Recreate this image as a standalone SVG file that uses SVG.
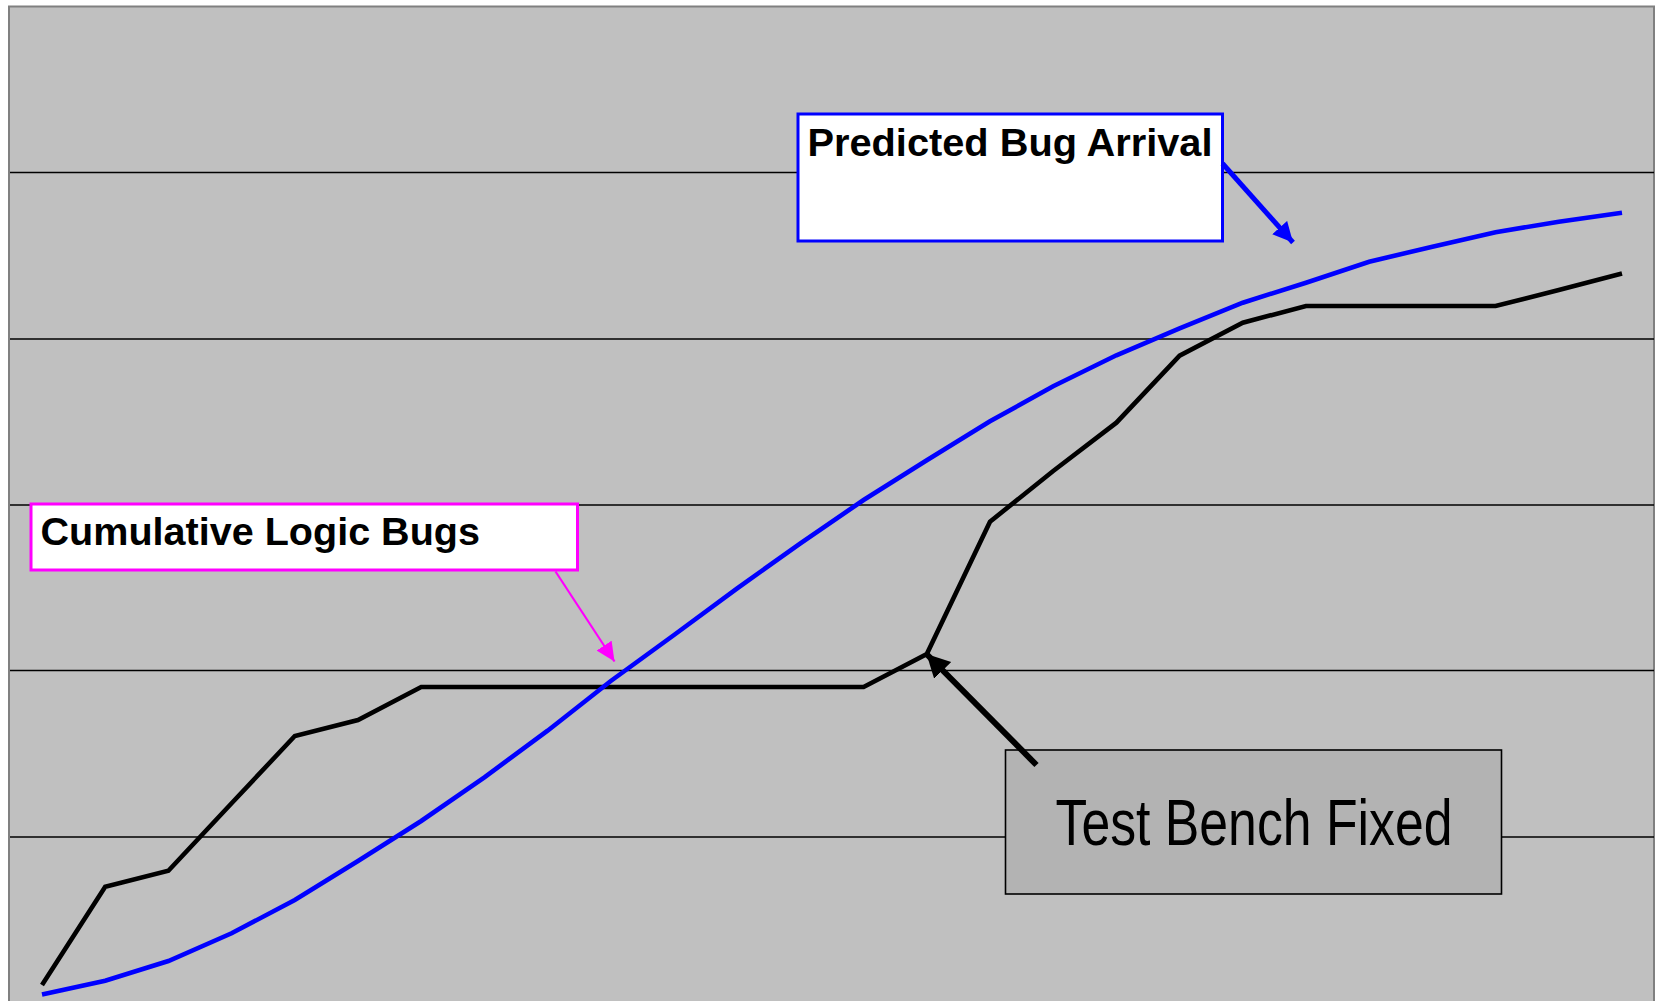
<svg xmlns="http://www.w3.org/2000/svg" width="1656" height="1001" viewBox="0 0 1656 1001">
<style>
.grid{stroke:#000;stroke-width:1.3;fill:none}
.series{fill:none;stroke-width:4.6;stroke-linejoin:miter;stroke-linecap:butt}
.lbl{font-family:"Liberation Sans",Arial,sans-serif;fill:#000}
.bold{font-weight:bold;font-size:39px}
</style>
<defs>
<marker id="ahBlue" markerUnits="userSpaceOnUse" markerWidth="24" markerHeight="22" refX="20" refY="10" orient="auto" viewBox="0 0 24 22">
<path d="M0,0 L20,10 L0,20 Z" fill="#0000FF"/>
</marker>
<marker id="ahMag" markerUnits="userSpaceOnUse" markerWidth="22" markerHeight="22" refX="19" refY="9" orient="auto" viewBox="0 0 22 22">
<path d="M0,0 L19,9 L0,18 Z" fill="#FF00FF"/>
</marker>
<marker id="ahBlack" markerUnits="userSpaceOnUse" markerWidth="26" markerHeight="26" refX="23" refY="12" orient="auto" viewBox="0 0 26 26">
<path d="M0,0 L23,12 L0,24 Z" fill="#000"/>
</marker>
</defs>
<rect x="0" y="0" width="1656" height="1001" fill="#FFFFFF"/>
<g id="plot">
<rect x="9" y="6.5" width="1645" height="1000" fill="#C0C0C0" stroke="#808080" stroke-width="2"/>
<line class="grid" x1="10" y1="172.5" x2="1654" y2="172.5"/>
<line class="grid" x1="10" y1="339" x2="1654" y2="339"/>
<line class="grid" x1="10" y1="505" x2="1654" y2="505"/>
<line class="grid" x1="10" y1="670.5" x2="1654" y2="670.5"/>
<line class="grid" x1="10" y1="837" x2="1654" y2="837"/>
</g>
<g id="series-actual">
<polyline class="series" stroke="#000000" points="42,985 105.2,886.7 168.4,870.7 231.6,803.3 294.8,736 358,720 421.2,687 484.4,687 547.6,687 610.8,687 674,687 737.2,687 800.4,687 863.6,687 926.8,654 990,521.7 1053.2,471 1116.4,422.7 1179.6,355.7 1242.8,322.7 1306,306 1369.2,306 1432.4,306 1495.6,306 1558.8,290 1622,273.5"/>
</g>
<g id="series-predicted">
<polyline class="series" stroke="#0000FF" points="42,994.5 105.2,980.7 168.4,961 231.6,933.3 294.8,900 358,861 421.2,821 484.4,777.3 547.6,730.7 610.8,681 674,635 737.2,588.3 800.4,543.3 863.6,500 926.8,460.3 990,421.3 1053.2,386.3 1116.4,355.3 1179.6,328.3 1242.8,302.7 1306,282.7 1369.2,261.7 1432.4,246.7 1495.6,232.3 1558.8,221.7 1622,212.7"/>
</g>
<g id="node-predicted">
<rect x="798" y="114" width="424.5" height="127" fill="#FFFFFF" stroke="#0000FF" stroke-width="3"/>
<text class="lbl bold" x="807.5" y="156" textLength="405" lengthAdjust="spacingAndGlyphs">Predicted Bug Arrival</text>
</g>
<g id="node-cumulative">
<rect x="31" y="504" width="546.5" height="66" fill="#FFFFFF" stroke="#FF00FF" stroke-width="3"/>
<text class="lbl bold" x="40.5" y="544.5" textLength="439.5" lengthAdjust="spacingAndGlyphs">Cumulative Logic Bugs</text>
</g>
<g id="node-testbench">
<rect x="1005.5" y="750" width="496" height="144" fill="#B3B3B3" stroke="#000000" stroke-width="1.6"/>
<text class="lbl" x="1055.5" y="845" font-size="64" textLength="397" lengthAdjust="spacingAndGlyphs">Test Bench Fixed</text>
</g>
<g id="connectors">
<line x1="1222.5" y1="163.5" x2="1293" y2="242.5" stroke="#0000FF" stroke-width="5" marker-end="url(#ahBlue)"/>
<line x1="555.5" y1="571.5" x2="614.5" y2="661.5" stroke="#FF00FF" stroke-width="2.2" marker-end="url(#ahMag)"/>
<line x1="1036.5" y1="765" x2="926.5" y2="654" stroke="#000000" stroke-width="6" marker-end="url(#ahBlack)"/>
</g>
</svg>
